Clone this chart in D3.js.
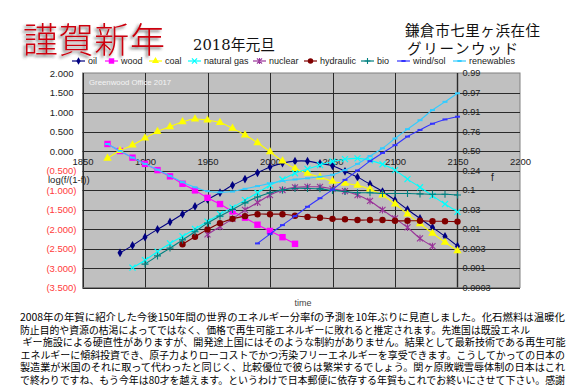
<!DOCTYPE html>
<html><head><meta charset="utf-8">
<script src="https://cdn.jsdelivr.net/npm/d3@7"></script>
<style>
body{margin:0;background:#fff;}
svg{display:block;}
</style>
</head><body>
<svg id="c" width="570" height="391"></svg>
<script>
// ---------------- data ----------------
const seriesNames = ["oil","wood","coal","natural gas","nuclear","hydraulic","bio","wind/sol","renewables"];
const startYears  = [1880, 1870, 1870, 1890, 1950, 1930, 1900, 1990, 1870];
const oil = [-2.61,-2.42,-2.21,-2.01,-1.82,-1.62,-1.42,-1.24,-1.07,-0.88,-0.72,-0.56,-0.41,-0.31,-0.26,-0.26,-0.32,-0.38,-0.52,-0.67,-0.85,-1.04,-1.26,-1.50,-1.73,-1.96,-2.19,-2.44];
const wood = [0.18,0.00,-0.17,-0.33,-0.49,-0.65,-0.84,-1.01,-1.20,-1.36,-1.55,-1.71,-1.89,-2.05,-2.21,-2.38];
const coal = [-0.19,0.01,0.15,0.33,0.50,0.62,0.75,0.82,0.79,0.73,0.58,0.41,0.21,-0.02,-0.26,-0.45,-0.57,-0.67,-0.78,-0.83,-0.88,-0.98,-1.13,-1.36,-1.62,-1.87,-2.11,-2.34,-2.56];
const naturalGas = [-2.99,-2.80,-2.58,-2.37,-2.19,-2.00,-1.81,-1.62,-1.45,-1.26,-1.07,-0.88,-0.73,-0.57,-0.46,-0.36,-0.27,-0.21,-0.19,-0.24,-0.34,-0.49,-0.72,-0.93,-1.15,-1.36,-1.56];
const nuclear = [-2.14,-1.94,-1.74,-1.51,-1.32,-1.13,-1.00,-0.93,-0.92,-0.92,-0.97,-1.03,-1.13,-1.28,-1.51,-1.73,-1.96,-2.24,-2.44];
const hydraulic = [-2.39,-2.20,-2.01,-1.85,-1.74,-1.67,-1.62,-1.62,-1.62,-1.66,-1.69,-1.71,-1.74,-1.75,-1.77,-1.77,-1.77,-1.79,-1.79,-1.79,-1.80,-1.80,-1.81];
const bio = [-2.90,-2.69,-2.49,-2.28,-2.07,-1.85,-1.67,-1.50,-1.33,-1.18,-1.07,-1.00,-0.96,-0.96,-0.97,-1.01,-1.04,-1.07,-1.07,-1.09,-1.09,-1.09,-1.10,-1.11,-1.11,-1.13];
const windSol = [-2.37,-2.13,-1.90,-1.67,-1.43,-1.21,-0.99,-0.74,-0.50,-0.26,-0.05,0.15,0.37,0.54,0.70,0.81,0.88];
const renewables = [0.18,0.00,-0.17,-0.33,-0.48,-0.64,-0.80,-0.93,-1.03,-1.06,-1.04,-0.97,-0.90,-0.83,-0.77,-0.73,-0.70,-0.66,-0.61,-0.49,-0.33,-0.13,0.07,0.32,0.56,0.79,1.05,1.26,1.48];
const seriesValues = [oil, wood, coal, naturalGas, nuclear, hydraulic, bio, windSol, renewables];

const xTickValues = [1850,1900,1950,2000,2050,2100,2150,2200];
const yTickValues = [2,1.5,1,0.5,0,-0.5,-1,-1.5,-2,-2.5,-3,-3.5];
const rightTickLabels = ["0.99","0.97","0.91","0.76","0.50","0.24","0.1","0.03","0.01","0.003","0.001","0.0003"];

const bodyLines = [
 "2008年の年賀に紹介した今後150年間の世界のエネルギー分率fの予測を10年ぶりに見直しました。化石燃料は温暖化",
 "防止目的や資源の枯渇によってではなく、価格で再生可能エネルギーに敗れると推定されます。先進国は既設エネル",
 "ギー施設による硬直性がありますが、開発途上国にはそのような制約がありません。結果として最新技術である再生可能",
 "エネルギーに傾斜投資でき、原子力よりローコストでかつ汚染フリーエネルギーを享受できます。こうしてかっての日本の",
 "製造業が米国のそれに取って代わったと同じく、比較優位で彼らは繁栄するでしょう。関ヶ原敗戦雪辱体制の日本はこれ",
 "で終わりですね、もう今年は80才を越えます。というわけで日本郵便に依存する年賀もこれでお終いにさせて下さい。感謝"
];

// ---------------- styles ----------------
const colors  = ["#000080","#ff00ff","#ffff00","#00ffff","#993399","#800000","#008080","#3333ff","#33ccff"];
const markers = ["diamond","square","triangle","x","star","circle","plus","dash","dash"];

const svg = d3.select("#c");
const sansFont = "'Liberation Sans', Arial, 'Noto Sans CJK JP', sans-serif";
const jpFont = "'Noto Sans CJK JP', sans-serif";

// scales
const x = d3.scaleLinear().domain([1850,2200]).range([82.5,520]);
const y = d3.scaleLinear().domain([-3.5,2]).range([287.5,73]);

// defs: shadow
const defs = svg.append("defs");
const f = defs.append("filter").attr("id","sh").attr("x","-20%").attr("y","-20%").attr("width","140%").attr("height","140%");
f.append("feDropShadow").attr("dx",-2).attr("dy",2).attr("stdDeviation",1.4).attr("flood-color","#333").attr("flood-opacity",0.75);

// header
svg.append("text").attr("x",23).attr("y",53).attr("font-family",jpFont).attr("font-size",35)
  .attr("font-weight",300).attr("fill","#cc0010").attr("filter","url(#sh)")
  .attr("textLength",142).attr("lengthAdjust","spacing").text("謹賀新年");
svg.append("text").attr("x",193).attr("y",50).attr("font-family","'DejaVu Serif','Noto Sans CJK JP',serif").attr("font-size",15)
  .attr("fill","#111").attr("textLength",82).attr("lengthAdjust","spacingAndGlyphs").text("2018年元旦");
svg.append("text").attr("x",405).attr("y",36).attr("font-family",jpFont).attr("font-size",14.5)
  .attr("fill","#111").attr("textLength",135).attr("lengthAdjust","spacing").text("鎌倉市七里ヶ浜在住");
svg.append("text").attr("x",407).attr("y",54).attr("font-family",jpFont).attr("font-size",14.5)
  .attr("fill","#111").attr("textLength",111).attr("lengthAdjust","spacing").text("グリーンウッド");

// plot background
svg.append("rect").attr("x",x(1850)).attr("y",y(2)).attr("width",x(2200)-x(1850)).attr("height",y(-3.5)-y(2))
  .attr("fill","#c0c0c0").attr("stroke","#808080").attr("stroke-width",1);

// gridlines
const grid = svg.append("g");
grid.selectAll("line.h").data(yTickValues.slice(1)).join("line")
  .attr("x1",x(1850)).attr("x2",x(2200)).attr("y1",d=>Math.round(y(d))+0.5).attr("y2",d=>Math.round(y(d))+0.5)
  .attr("stroke","#2a2a2a").attr("stroke-width",1);
grid.selectAll("line.v").data(xTickValues.slice(0,-1)).join("line")
  .attr("x1",d=>Math.round(x(d))+0.5).attr("x2",d=>Math.round(x(d))+0.5).attr("y1",y(2)).attr("y2",y(-3.5))
  .attr("stroke","#2a2a2a").attr("stroke-width",d=>d===2150?1.4:1);

// watermark
svg.append("text").attr("x",89).attr("y",85).attr("font-family",sansFont).attr("font-size",7.8)
  .attr("fill","#f4f4f4").text("Greenwood Office 2017");

// x axis labels
const xa = svg.append("g").attr("transform",`translate(0,${y(0)})`)
  .call(d3.axisBottom(x).tickValues(xTickValues).tickSize(0).tickPadding(7).tickFormat(d3.format("d")));
xa.select(".domain").remove();
xa.selectAll("text").attr("font-family",sansFont).attr("font-size",9.5).attr("fill","#222");

// left axis labels
const fmt = d3.format(".3f");
const ya = svg.append("g").attr("transform",`translate(${x(1850)},0)`)
  .call(d3.axisLeft(y).tickValues(yTickValues).tickSize(0).tickPadding(6)
     .tickFormat(d => d < 0 ? `(${fmt(-d)})` : fmt(d)));
ya.select(".domain").remove();
ya.selectAll("text").attr("font-family",sansFont).attr("font-size",9.5)
  .attr("fill",d=>d<0?"#ff3b3b":"#222")
  .attr("dx",d=>d<0?0:-3);

// right axis labels
const ra = svg.append("g").attr("transform",`translate(${x(2150)},0)`)
  .call(d3.axisRight(y).tickValues(yTickValues).tickSize(0).tickPadding(5)
     .tickFormat((d,i)=>rightTickLabels[i]));
ra.select(".domain").remove();
ra.selectAll("text").attr("font-family",sansFont).attr("font-size",9.2).attr("fill","#222");

// axis titles
svg.append("text").attr("x",48).attr("y",183).attr("font-family",sansFont).attr("font-size",9.5).attr("fill","#222").text("log(f/(1-f))");
svg.append("text").attr("x",491).attr("y",181).attr("font-family",sansFont).attr("font-size",10).attr("fill","#222").text("f");
svg.append("text").attr("x",303).attr("y",306).attr("text-anchor","middle").attr("font-family",sansFont).attr("font-size",9).attr("fill","#444").text("time");

// marker drawing
function drawMarker(sel, type, color, s){
  s = s || 1;
  if(type==="diamond") sel.append("path").attr("d",d3.symbol(d3.symbolDiamond,22*s*s)()).attr("fill",color);
  else if(type==="square") sel.append("rect").attr("x",-3.2*s).attr("y",-3.2*s).attr("width",6.4*s).attr("height",6.4*s).attr("fill",color);
  else if(type==="triangle") sel.append("path").attr("d",d3.symbol(d3.symbolTriangle,30*s*s)()).attr("fill",color);
  else if(type==="circle") sel.append("circle").attr("r",3.2*s).attr("fill",color);
  else if(type==="x") sel.append("path").attr("d",`M${-3*s},${-3*s}L${3*s},${3*s}M${-3*s},${3*s}L${3*s},${-3*s}`).attr("stroke",color).attr("stroke-width",1.2).attr("fill","none");
  else if(type==="star") sel.append("path").attr("d",`M${-3*s},${-3*s}L${3*s},${3*s}M${-3*s},${3*s}L${3*s},${-3*s}M0,${-3.5*s}L0,${3.5*s}`).attr("stroke",color).attr("stroke-width",1.1).attr("fill","none");
  else if(type==="plus") sel.append("path").attr("d",`M${-3.5*s},0L${3.5*s},0M0,${-3.5*s}L0,${3.5*s}`).attr("stroke",color).attr("stroke-width",1.1).attr("fill","none");
  else if(type==="dash") sel.append("path").attr("d",`M${-2.5*s},0L${2.5*s},0`).attr("stroke",color).attr("stroke-width",2).attr("fill","none");
}

// series
const line = d3.line().x(d=>x(d[0])).y(d=>y(d[1])).curve(d3.curveCatmullRom.alpha(0.5));
const plot = svg.append("g");
seriesNames.forEach((name,i)=>{
  const pts = seriesValues[i].map((v,k)=>[startYears[i]+10*k, v]);
  const g = plot.append("g");
  g.append("path").attr("d",line(pts)).attr("fill","none").attr("stroke",colors[i]).attr("stroke-width",1.1);
  g.selectAll("g.m").data(pts).join("g").attr("transform",d=>`translate(${x(d[0])},${y(d[1])})`)
    .each(function(){ drawMarker(d3.select(this), markers[i], colors[i]); });
});

// legend
const legendX = [88,121,165,204,269,320,377,413,469];
const lg = svg.append("g");
seriesNames.forEach((name,i)=>{
  const tx = legendX[i];
  const g = lg.append("g");
  g.append("line").attr("x1",tx-16).attr("x2",tx-3).attr("y1",61).attr("y2",61).attr("stroke",colors[i]).attr("stroke-width",1.2);
  const m = g.append("g").attr("transform",`translate(${tx-9.5},61)`);
  drawMarker(m, markers[i], colors[i], 0.85);
  g.append("text").attr("x",tx).attr("y",64.3).attr("font-family",sansFont).attr("font-size",9).attr("fill","#222").text(name);
});

// body text
const lineStarts = [20,20,22.5,20.5,20,20];
const lineEnds   = [565,530,565.5,565,565,565];
svg.append("g").selectAll("text").data(bodyLines).join("text")
  .attr("x",(d,i)=>lineStarts[i]).attr("y",(d,i)=>321+12.5*i)
  .attr("font-family",jpFont).attr("font-size",9.9).attr("fill","#000")
  .attr("textLength",(d,i)=>lineEnds[i]-lineStarts[i]).attr("lengthAdjust","spacingAndGlyphs")
  .text(d=>d);
</script>
</body></html>
